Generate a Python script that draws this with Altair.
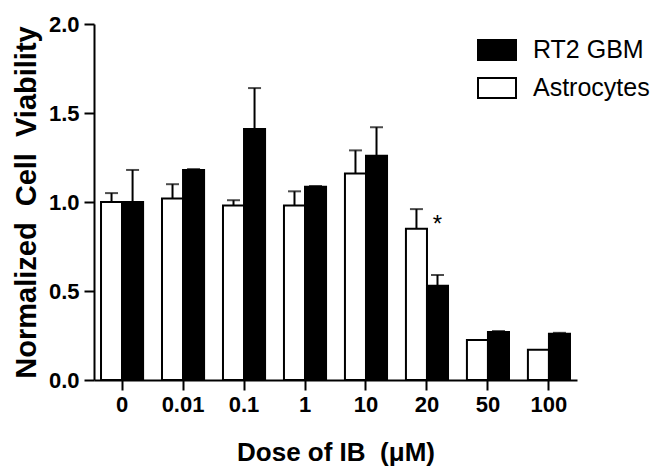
import altair as alt
import pandas as pd

doses = ["0", "0.01", "0.1", "1", "10", "20", "50", "100"]
astro = [1.00, 1.02, 0.98, 0.98, 1.16, 0.85, 0.225, 0.17]
astro_err = [0.05, 0.08, 0.03, 0.08, 0.13, 0.11, 0.0, 0.0]
rt2 = [1.00, 1.18, 1.41, 1.085, 1.26, 0.53, 0.27, 0.26]
rt2_err = [0.18, 0.005, 0.23, 0.005, 0.16, 0.06, 0.005, 0.005]
series_names = ["RT2 GBM", "Astrocytes"]
y_ticks = [0, 0.5, 1.0, 1.5, 2.0]
star_dose = "20"
star_series = "RT2 GBM"
star_y = 0.83

rows = []
for d, a, ae, r, re in zip(doses, astro, astro_err, rt2, rt2_err):
    rows.append({"dose": d, "series": "Astrocytes", "value": a, "upper": a + ae, "err": ae})
    rows.append({"dose": d, "series": "RT2 GBM", "value": r, "upper": r + re, "err": re})
df = pd.DataFrame(rows)
star_df = pd.DataFrame([{"dose": star_dose, "series": star_series, "y": star_y, "label": "*"}])

FONT = "Liberation Sans"
NB = "\u00a0"

x_enc = alt.X(
    "dose:N",
    sort=doses,
    scale=alt.Scale(paddingInner=0.31, paddingOuter=0.115),
    axis=alt.Axis(
        title="Dose of IB" + NB + " (\u03bcM)",
        labelAngle=0,
        labelAlign="center",
        bandPosition=0.5,
        labelPadding=14,
        titleY=80,
        titleBaseline="alphabetic",
        titleFontSize=26,
    ),
)
xo_enc = alt.XOffset(
    "series:N",
    sort=["Astrocytes", "RT2 GBM"],
    scale=alt.Scale(paddingInner=0, paddingOuter=0),
)

bars = alt.Chart(df).mark_bar(stroke="black", strokeWidth=2).encode(
    x=x_enc,
    xOffset=xo_enc,
    y=alt.Y(
        "value:Q",
        scale=alt.Scale(domain=[0, 2]),
        axis=alt.Axis(
            values=y_ticks,
            format=".1f",
            title="Normalized" + NB + " Cell" + NB + " Viability",
            titleX=-68,
            titleY=178,
            titleAlign="center",
            titleBaseline="middle",
            titleFontSize=29,
        ),
    ),
    fill=alt.Fill(
        "series:N",
        scale=alt.Scale(domain=series_names, range=["black", "white"]),
        legend=alt.Legend(
            title=None,
            orient="none",
            legendX=383,
            legendY=6,
            padding=0,
            symbolType="M-1,-0.53H1V0.53H-1Z",
            symbolSize=1444,
            symbolStrokeColor="black",
            symbolStrokeWidth=2,
            labelFont=FONT,
            labelFontSize=25,
            labelColor="black",
            labelOffset=16,
            rowPadding=3,
        ),
    ),
)

err_src = alt.Chart(df).transform_filter("datum.err > 0")
rules = err_src.mark_rule(color="black", strokeWidth=2).encode(
    x=alt.X("dose:N", sort=doses),
    xOffset=xo_enc,
    y=alt.Y("value:Q"),
    y2="upper:Q",
)
caps = err_src.mark_tick(color="black", thickness=2, size=13, orient="horizontal").encode(
    x=alt.X("dose:N", sort=doses),
    xOffset=xo_enc,
    y=alt.Y("upper:Q"),
)
star = alt.Chart(star_df).mark_text(
    font=FONT, fontSize=24, color="black", baseline="alphabetic"
).encode(
    x=alt.X("dose:N", sort=doses),
    xOffset=xo_enc,
    y=alt.Y("y:Q"),
    text="label:N",
)

chart = (
    alt.layer(rules, caps, bars, star)
    .properties(
        width=483,
        height=356,
        autosize=alt.AutoSizeParams(type="none"),
        padding={"left": 94, "top": 24, "right": 85, "bottom": 89},
        background="white",
    )
    .configure_view(stroke=None)
    .configure_axis(
        domainColor="black",
        domainWidth=2,
        tickColor="black",
        tickWidth=2,
        tickSize=10,
        grid=False,
        labelFont=FONT,
        labelFontSize=22,
        labelFontWeight="bold",
        labelColor="black",
        labelPadding=5,
        titleFont=FONT,
        titleFontWeight="bold",
        titleColor="black",
    )
)

chart.save("out.html", embed_options={"renderer": "svg", "actions": False})
